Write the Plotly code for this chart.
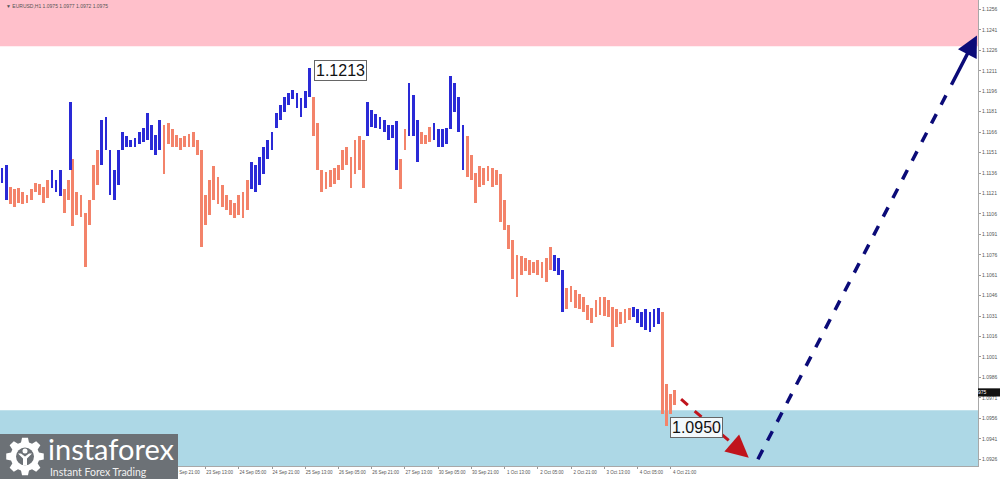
import math
import plotly.graph_objects as go

# ---------------- data (EURUSD H1) ----------------
bar_index = [0, 2, 4, 6, 8, 10, 12, 14, 16, 18, 20, 22, 24, 26, 28, 30, 32, 33, 34, 36, 38, 40, 42, 44, 46,
             48, 50, 52, 54, 56, 58, 60, 62, 64, 66, 68, 70, 72, 74, 76, 78, 80, 82, 84, 86, 88, 90, 92, 94,
             96, 98, 100, 102, 104, 106, 108, 110, 112, 114, 116, 118, 120, 122, 124, 126, 128, 130, 132,
             134, 136, 138, 140, 142, 144, 146, 148, 150, 152, 154, 156, 158, 160, 162, 164, 166, 168, 170,
             172, 174, 176, 178, 180, 182, 184, 186, 188, 190, 192, 194, 196, 198, 200, 202, 204, 206, 208,
             210, 212, 214, 216, 218, 220, 222, 224, 226, 228, 230, 232, 234, 236, 238, 240, 242, 244, 246,
             248, 250, 252, 254, 256, 258, 260, 262, 264, 266, 268, 270, 272, 274, 276, 278, 280, 282, 284,
             286, 288, 290, 292, 294, 296, 298, 300, 302, 304, 306, 308, 310, 312, 314, 316, 318, 320, 322, 324]
bar_high = [1.1140, 1.1142, 1.1126, 1.1124, 1.1125, 1.1122, 1.1120, 1.1124, 1.1129, 1.1128, 1.1126, 1.1131,
            1.1138, 1.1131, 1.1138, 1.1124, 1.1131, 1.1188, 1.1146, 1.1122, 1.1120, 1.1107, 1.1116, 1.1142,
            1.1153, 1.1175, 1.1177, 1.1153, 1.1138, 1.1153, 1.1166, 1.1163, 1.1160, 1.1162, 1.1166, 1.1169,
            1.1180, 1.1171, 1.1164, 1.1175, 1.1171, 1.1173, 1.1168, 1.1164, 1.1162, 1.1163, 1.1165, 1.1166,
            1.1160, 1.1153, 1.1120, 1.1131, 1.1141, 1.1133, 1.1127, 1.1120, 1.1116, 1.1114, 1.1120, 1.1122,
            1.1131, 1.1144, 1.1142, 1.1148, 1.1155, 1.1160, 1.1166, 1.1180, 1.1186, 1.1192, 1.1195, 1.1197,
            1.1195, 1.1191, 1.1196, 1.1213, 1.1192, 1.1173, 1.1138, 1.1137, 1.1138, 1.1140, 1.1142, 1.1153,
            1.1155, 1.1148, 1.1160, 1.1163, 1.1160, 1.1188, 1.1182, 1.1179, 1.1177, 1.1175, 1.1171, 1.1171,
            1.1174, 1.1146, 1.1168, 1.1202, 1.1193, 1.1175, 1.1166, 1.1164, 1.1170, 1.1173, 1.1168, 1.1168,
            1.1169, 1.1207, 1.1202, 1.1192, 1.1171, 1.1163, 1.1149, 1.1136, 1.1141, 1.1140, 1.1141, 1.1140,
            1.1138, 1.1135, 1.1116, 1.1098, 1.1087, 1.1076, 1.1075, 1.1074, 1.1072, 1.1071, 1.1072, 1.1071,
            1.1074, 1.1082, 1.1076, 1.1074, 1.1065, 1.1052, 1.1053, 1.1050, 1.1047, 1.1045, 1.1039, 1.1037,
            1.1043, 1.1045, 1.1045, 1.1043, 1.1038, 1.1036, 1.1034, 1.1036, 1.1037, 1.1038, 1.1036, 1.1034,
            1.1036, 1.1034, 1.1036, 1.1037, 1.1034, 1.0981, 1.0974, 1.0977]
bar_low = [1.1129, 1.1116, 1.1113, 1.1111, 1.1114, 1.1113, 1.1114, 1.1116, 1.1122, 1.1120, 1.1114, 1.1118,
           1.1125, 1.1122, 1.1119, 1.1107, 1.1116, 1.1138, 1.1097, 1.1105, 1.1104, 1.1067, 1.1098, 1.1116,
           1.1127, 1.1142, 1.1153, 1.1120, 1.1116, 1.1127, 1.1153, 1.1155, 1.1155, 1.1155, 1.1157, 1.1159,
           1.1160, 1.1153, 1.1149, 1.1153, 1.1135, 1.1157, 1.1155, 1.1155, 1.1153, 1.1155, 1.1155, 1.1155,
           1.1149, 1.1082, 1.1098, 1.1105, 1.1116, 1.1113, 1.1111, 1.1109, 1.1105, 1.1103, 1.1105, 1.1103,
           1.1109, 1.1124, 1.1122, 1.1127, 1.1135, 1.1146, 1.1153, 1.1169, 1.1175, 1.1181, 1.1186, 1.1190,
           1.1184, 1.1177, 1.1184, 1.1192, 1.1163, 1.1138, 1.1122, 1.1124, 1.1126, 1.1128, 1.1131, 1.1138,
           1.1142, 1.1125, 1.1135, 1.1138, 1.1125, 1.1163, 1.1170, 1.1169, 1.1168, 1.1166, 1.1160, 1.1162,
           1.1138, 1.1124, 1.1153, 1.1163, 1.1163, 1.1144, 1.1157, 1.1157, 1.1159, 1.1160, 1.1155, 1.1155,
           1.1157, 1.1168, 1.1181, 1.1166, 1.1138, 1.1133, 1.1131, 1.1114, 1.1126, 1.1127, 1.1130, 1.1126,
           1.1127, 1.1100, 1.1094, 1.1080, 1.1058, 1.1045, 1.1061, 1.1064, 1.1061, 1.1063, 1.1061, 1.1059,
           1.1056, 1.1065, 1.1064, 1.1061, 1.1034, 1.1036, 1.1041, 1.1037, 1.1036, 1.1034, 1.1028, 1.1026,
           1.1030, 1.1032, 1.1031, 1.1030, 1.1008, 1.1023, 1.1025, 1.1026, 1.1028, 1.1030, 1.1026, 1.1023,
           1.1021, 1.1019, 1.1023, 1.1025, 1.0959, 1.0950, 1.0959, 1.0966]
bar_wave = (["up"] * 2 + ["down"] * 10 + ["up"] * 3 + ["down"] * 2 + ["up"] + ["down"] * 7 + ["up"] * 15
            + ["down"] * 21 + ["up"] * 15 + ["down"] * 13 + ["up"] * 8 + ["down"] * 2 + ["up"] * 3
            + ["down"] * 3 + ["up"] * 8 + ["down"] * 21 + ["up"] * 3 + ["down"] * 16 + ["up"] * 7 + ["down"] * 4)

# visible time labels (earlier ones are hidden under the logo in the reference)
x_tick_index = [82, 98, 114, 130, 146, 162, 178, 194, 210, 226, 242, 258, 274, 290, 306, 322]
x_tick_text = ["20 Sep 21:00", "23 Sep 13:00", "24 Sep 05:00", "24 Sep 21:00", "25 Sep 13:00", "26 Sep 05:00",
               "26 Sep 21:00", "27 Sep 13:00", "30 Sep 05:00", "30 Sep 21:00", "1 Oct 13:00", "2 Oct 05:00",
               "2 Oct 21:00", "3 Oct 13:00", "4 Oct 05:00", "4 Oct 21:00"]
y_tick_values = [1.0926, 1.0941, 1.0956, 1.0971, 1.0986, 1.1001, 1.1016, 1.1031, 1.1046, 1.1061, 1.1076,
                 1.1091, 1.1106, 1.1121, 1.1136, 1.1151, 1.1166, 1.1181, 1.1196, 1.1211, 1.1226, 1.1241, 1.1256]

resistance_zone = [1.1229, 1.1263]
support_zone = [1.0921, 1.0962]
peak_label = (150, 1.1211, "1.1213")
trough_label = (321.5, 1.0949, "1.0950")
red_arrow = [(327, 1.0970), (359.6, 1.0927)]
navy_arrow = [(364, 1.0926), (469.5, 1.1237)]
last_price = 1.0975
header_text = "▼ EURUSD,H1 1.0975 1.0977 1.0972 1.0975"

X_RANGE = [-1, 470]
Y_RANGE = [1.0921, 1.1263]
UP_COLOR = "#2a2ad6"
DOWN_COLOR = "#f3836a"
LOGO_GRAY = "#6c7176"
SMALL_FONT = dict(family="Liberation Sans, Arial", size=5, color="#555")
PLOT_W, PLOT_H = 978, 466

fig = go.Figure()
for wave, color in (("down", DOWN_COLOR), ("up", UP_COLOR)):
    xs = [i for i, w in zip(bar_index, bar_wave) if w == wave]
    hs = [h for h, w in zip(bar_high, bar_wave) if w == wave]
    ls = [l for l, w in zip(bar_low, bar_wave) if w == wave]
    fig.add_trace(go.Bar(x=xs, y=[h - l for h, l in zip(hs, ls)], base=ls, width=1.35,
                         marker=dict(color=color, line=dict(width=0)), showlegend=False))

shapes = [
    dict(type="rect", xref="paper", yref="y", x0=0, x1=1, y0=resistance_zone[0], y1=resistance_zone[1],
         fillcolor="#ffc0cb", line=dict(width=0), layer="below"),
    dict(type="rect", xref="paper", yref="y", x0=0, x1=1, y0=support_zone[0], y1=support_zone[1],
         fillcolor="#add8e6", line=dict(width=0), layer="below"),
]

annotations = []


def dashed_arrow(pts, color, width, head):
    (x0, y0), (x1, y1) = pts
    xm = x0 + (x1 - x0) * 0.88
    ym = y0 + (y1 - y0) * 0.88
    shapes.append(dict(type="line", xref="x", yref="y", x0=x0, y0=y0, x1=xm, y1=ym,
                       line=dict(color=color, width=width, dash="dash"), layer="above"))
    annotations.append(dict(x=x1, y=y1, ax=xm, ay=ym, axref="x", ayref="y", xref="x", yref="y",
                            text="", showarrow=True, arrowhead=2, arrowsize=head, arrowwidth=width,
                            arrowcolor=color, standoff=0))


dashed_arrow(red_arrow, "#c0141c", 3, 1.5)
dashed_arrow(navy_arrow, "#0b0b78", 3.5, 1.2)

for (lx, ly, lt) in (peak_label, trough_label):
    annotations.append(dict(x=lx, y=ly, xref="x", yref="y", text=lt, showarrow=False, xanchor="left",
                            yanchor="middle", font=dict(family="Liberation Sans, Arial", size=16, color="#111"),
                            bgcolor="rgba(255,255,255,0.85)", bordercolor="#666", borderwidth=1, borderpad=1))

# header text
annotations.append(dict(x=0.004, y=0.997, xref="paper", yref="paper", text=header_text, showarrow=False,
                        xanchor="left", yanchor="top", font=SMALL_FONT))

# current price tag on axis
shapes.append(dict(type="rect", xref="paper", yref="y", x0=1.0, x1=1.0 + 22 / PLOT_W, y0=last_price - 0.0003,
                   y1=last_price + 0.0003, fillcolor="#111", line=dict(width=0), layer="above"))
annotations.append(dict(x=1.0 + 11 / PLOT_W, y=last_price, xref="paper", yref="y", text=f"{last_price:.4f}",
                        showarrow=False, font=dict(family="Liberation Sans, Arial", size=5, color="white")))


# ---------------- logo ----------------
def px(xp):
    return xp / PLOT_W


def py(yp):
    return (PLOT_H - yp) / PLOT_H


shapes.append(dict(type="rect", xref="paper", yref="paper", x0=0, x1=px(178), y0=py(479), y1=py(434),
                   fillcolor=LOGO_GRAY, line=dict(width=0), layer="above"))
gx, gy, r_out, r_body = 25, 456.5, 19, 14.5
pts = []
for t in range(8):
    c = t * 45
    for ang, r in ((c - 16, r_body), (c - 9, r_out), (c + 9, r_out), (c + 16, r_body)):
        a = math.radians(ang)
        pts.append((px(gx + r * math.cos(a)), py(gy + r * math.sin(a))))
gear_path = "M " + " L ".join(f"{a:.5f},{b:.5f}" for a, b in pts) + " Z"
shapes.append(dict(type="path", xref="paper", yref="paper", path=gear_path, fillcolor="white",
                   line=dict(width=0), layer="above"))
shapes.append(dict(type="circle", xref="paper", yref="paper", x0=px(gx - 9), x1=px(gx + 9), y0=py(gy + 9),
                   y1=py(gy - 9), fillcolor=LOGO_GRAY, line=dict(width=0), layer="above"))
shapes.append(dict(type="circle", xref="paper", yref="paper", x0=px(gx - 2.5), x1=px(gx + 2.5), y0=py(gy - 3),
                   y1=py(gy - 8), fillcolor="white", line=dict(width=0), layer="above"))
shapes.append(dict(type="path", xref="paper", yref="paper",
                   path=(f"M {px(gx - 7)},{py(gy - 3)} L {px(gx - 2)},{py(gy + 2)} L {px(gx - 2)},{py(gy + 9)} "
                         f"L {px(gx + 2)},{py(gy + 9)} L {px(gx + 2)},{py(gy + 2)} L {px(gx + 7)},{py(gy - 3)} "
                         f"L {px(gx + 4)},{py(gy - 3)} L {px(gx)},{py(gy)} L {px(gx - 4)},{py(gy - 3)} Z"),
                   fillcolor="white", line=dict(width=0), layer="above"))
annotations.append(dict(x=px(46), y=py(448), xref="paper", yref="paper", text="instaforex",
                        showarrow=False, xanchor="left", yanchor="middle",
                        font=dict(family="Lato", size=29, color="white")))
annotations.append(dict(x=px(48), y=py(472), xref="paper", yref="paper",
                        text="Instant Forex Trading", showarrow=False, xanchor="left", yanchor="middle",
                        font=dict(family="Lato", size=10.5, color="#f0f0f0")))

fig.update_layout(
    width=1000, height=479, margin=dict(l=0, r=22, t=0, b=13, autoexpand=False),
    plot_bgcolor="white", paper_bgcolor="white", bargap=0, barmode="overlay",
    shapes=shapes, annotations=annotations, showlegend=False,
    xaxis=dict(range=X_RANGE, showgrid=False, zeroline=False, tickmode="array", tickvals=x_tick_index,
               ticktext=x_tick_text, tickfont=dict(family="Liberation Sans, Arial", size=4.5, color="#555"),
               tickangle=0, automargin=False,
               ticks="outside", ticklen=2, tickcolor="#999", ticklabelshift=14, ticklabelstandoff=0,
               showline=True, linecolor="#a8a8a8", linewidth=1),
    yaxis=dict(range=Y_RANGE, side="right", showgrid=False, zeroline=False, tickmode="array",
               tickvals=y_tick_values, ticktext=[f"{v:.4f}" for v in y_tick_values], automargin=False,
               tickfont=SMALL_FONT, ticks="outside", ticklen=2,
               tickcolor="#999", showline=True, linecolor="#a8a8a8", linewidth=1, mirror=True),
)

fig.write_html("out.html", config={"displayModeBar": False},
               post_script="document.body.style.margin='0';document.body.style.overflow='hidden';")
